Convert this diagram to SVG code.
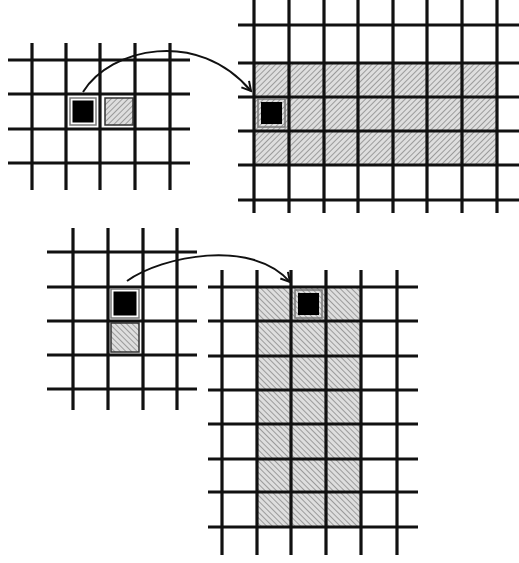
<svg xmlns="http://www.w3.org/2000/svg" width="519" height="563" viewBox="0 0 519 563">
<style>
.g line{stroke:#111;stroke-width:3.2;stroke-linecap:butt}
.blk{fill:#000}
.frame{fill:none;stroke:#7a7a7a;stroke-width:1.5}
.hs{stroke:#333;stroke-width:1.5}
.conn{fill:none;stroke:#111;stroke-width:2}
</style>
<defs>
<pattern id="hatchF" width="4" height="4" patternUnits="userSpaceOnUse" patternTransform="rotate(45)">
<rect width="4" height="4" fill="#dedede"/>
<line x1="0" y1="0" x2="0" y2="4" stroke="#7e7e7e" stroke-width="1.4"/>
</pattern>
<pattern id="hatchB" width="4" height="4" patternUnits="userSpaceOnUse" patternTransform="rotate(-45)">
<rect width="4" height="4" fill="#dedede"/>
<line x1="0" y1="0" x2="0" y2="4" stroke="#7e7e7e" stroke-width="1.4"/>
</pattern>
<marker id="arr" markerWidth="12" markerHeight="12" refX="10" refY="6" orient="auto" markerUnits="userSpaceOnUse">
<path d="M1,1 L10,6 L1,11" fill="none" stroke="#111" stroke-width="2"/>
</marker>
</defs>
<rect width="519" height="563" fill="#fff"/>

<g id="grid-top-left" class="g">
<rect x="105" y="98" width="28" height="27" fill="url(#hatchF)" class="hs"/>
<line x1="8" y1="60" x2="190" y2="60"/>
<line x1="8" y1="94" x2="190" y2="94"/>
<line x1="8" y1="129" x2="190" y2="129"/>
<line x1="8" y1="163" x2="190" y2="163"/>
<line x1="32" y1="43" x2="32" y2="190"/>
<line x1="66" y1="43" x2="66" y2="190"/>
<line x1="100" y1="43" x2="100" y2="190"/>
<line x1="135" y1="43" x2="135" y2="190"/>
<line x1="170" y1="43" x2="170" y2="190"/>
<rect x="70" y="98" width="26" height="27" class="frame"/>
<rect x="72.5" y="100.5" width="21" height="22" class="blk"/>
</g>

<g id="grid-top-right" class="g">
<rect x="254" y="63" width="243" height="102" fill="url(#hatchF)"/>
<line x1="238" y1="25" x2="519" y2="25"/>
<line x1="238" y1="63" x2="519" y2="63"/>
<line x1="238" y1="97" x2="519" y2="97"/>
<line x1="238" y1="131" x2="519" y2="131"/>
<line x1="238" y1="165" x2="519" y2="165"/>
<line x1="238" y1="200" x2="519" y2="200"/>
<line x1="254" y1="0" x2="254" y2="213"/>
<line x1="289" y1="0" x2="289" y2="213"/>
<line x1="324" y1="0" x2="324" y2="213"/>
<line x1="358" y1="0" x2="358" y2="213"/>
<line x1="393" y1="0" x2="393" y2="213"/>
<line x1="427" y1="0" x2="427" y2="213"/>
<line x1="462" y1="0" x2="462" y2="213"/>
<line x1="497" y1="0" x2="497" y2="213"/>
<rect x="258" y="99" width="27" height="28" fill="#fff" class="frame"/>
<rect x="261" y="102" width="21" height="22" class="blk"/>
</g>

<g id="grid-bottom-left" class="g">
<rect x="111" y="323" width="28" height="29" fill="url(#hatchB)" class="hs"/>
<line x1="47" y1="252" x2="197" y2="252"/>
<line x1="47" y1="287" x2="197" y2="287"/>
<line x1="47" y1="321" x2="197" y2="321"/>
<line x1="47" y1="355" x2="197" y2="355"/>
<line x1="47" y1="389" x2="197" y2="389"/>
<line x1="73" y1="228" x2="73" y2="410"/>
<line x1="108" y1="228" x2="108" y2="410"/>
<line x1="143" y1="228" x2="143" y2="410"/>
<line x1="177" y1="228" x2="177" y2="410"/>
<rect x="111" y="289" width="28" height="29" class="frame"/>
<rect x="113.5" y="291.5" width="23" height="24" class="blk"/>
</g>

<g id="grid-bottom-right" class="g">
<rect x="257" y="287" width="104" height="240" fill="url(#hatchB)"/>
<line x1="208" y1="287" x2="418" y2="287"/>
<line x1="208" y1="321" x2="418" y2="321"/>
<line x1="208" y1="356" x2="418" y2="356"/>
<line x1="208" y1="390" x2="418" y2="390"/>
<line x1="208" y1="424" x2="418" y2="424"/>
<line x1="208" y1="459" x2="418" y2="459"/>
<line x1="208" y1="492" x2="418" y2="492"/>
<line x1="208" y1="527" x2="418" y2="527"/>
<line x1="222" y1="270" x2="222" y2="555"/>
<line x1="257" y1="270" x2="257" y2="555"/>
<line x1="291" y1="270" x2="291" y2="555"/>
<line x1="326" y1="270" x2="326" y2="555"/>
<line x1="361" y1="270" x2="361" y2="555"/>
<line x1="397" y1="270" x2="397" y2="555"/>
<rect x="295" y="290" width="27" height="28" fill="#fff" class="frame"/>
<rect x="298" y="293" width="21" height="22" class="blk"/>
</g>

<g id="connectors">
<path class="conn" d="M83,92 C110,48 198,28 251,91" marker-end="url(#arr)"/>
<path class="conn" d="M127,281 C162,256 252,238 290,282" marker-end="url(#arr)"/>
</g>
</svg>
